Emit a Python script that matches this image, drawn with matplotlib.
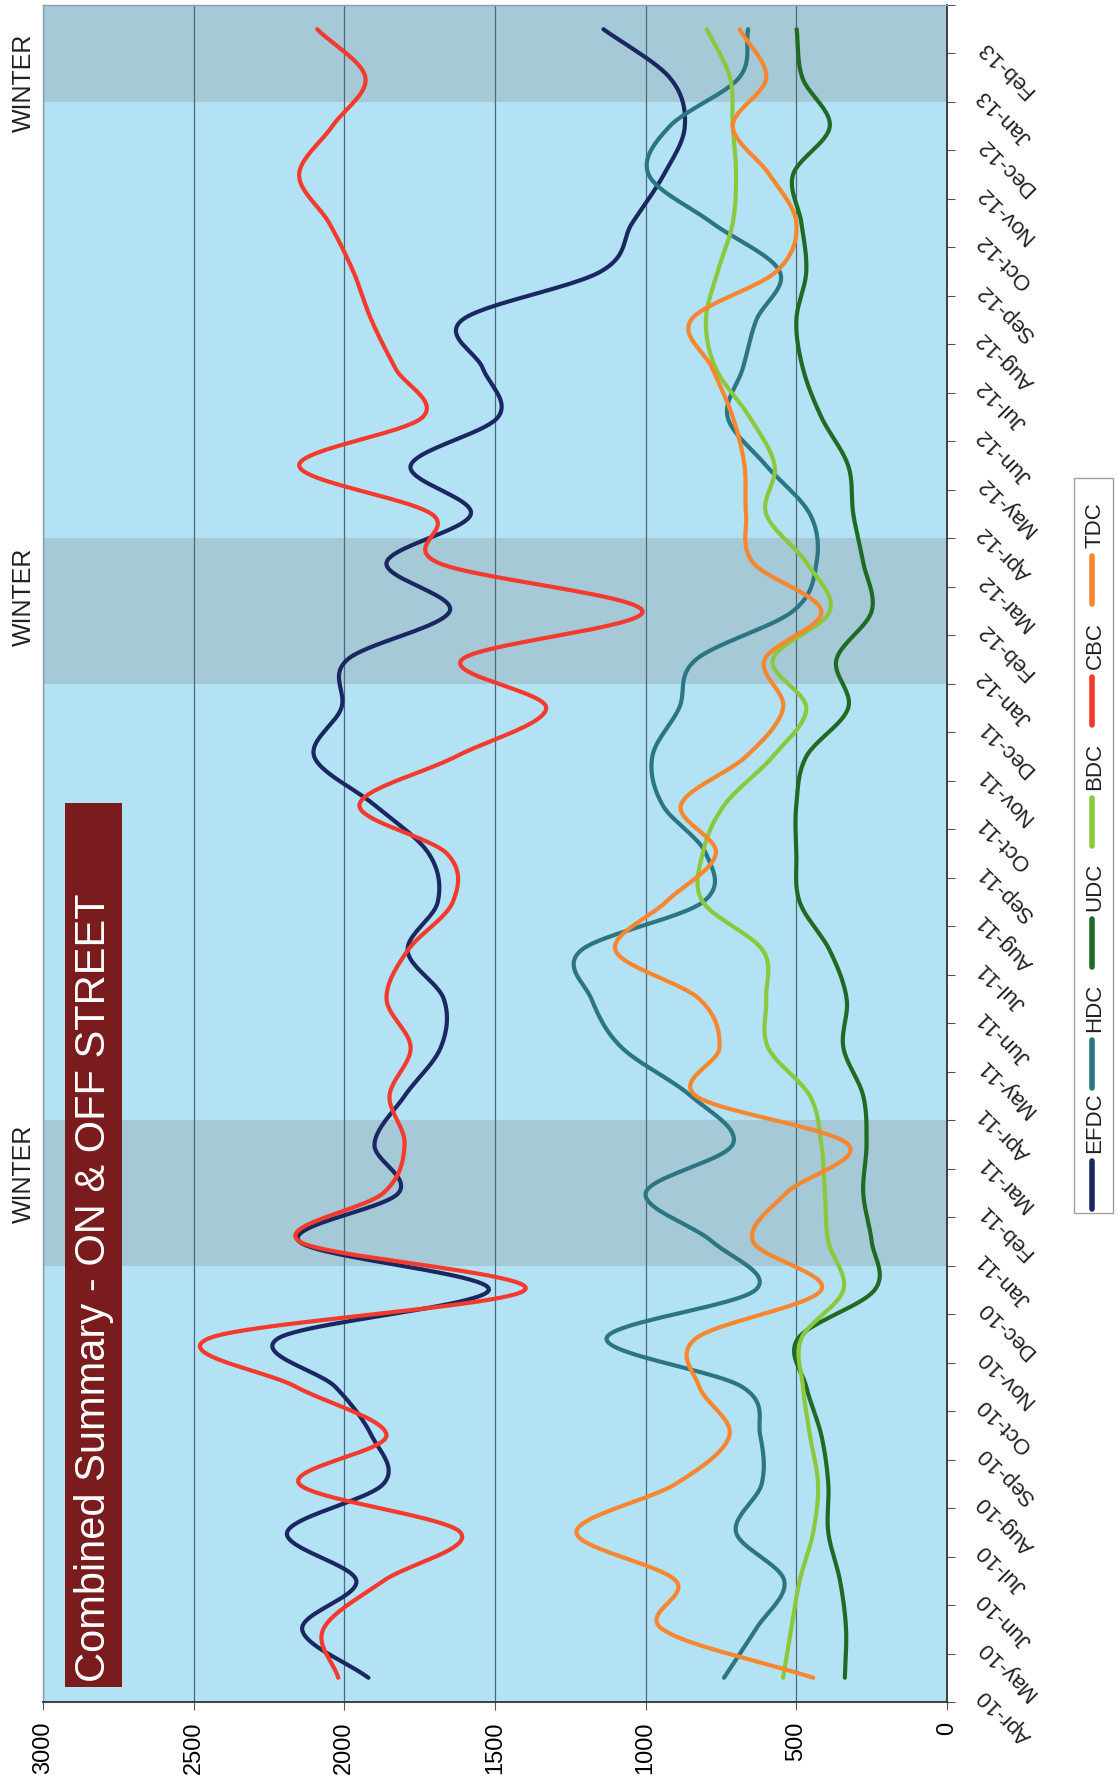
import numpy as np
import matplotlib.pyplot as plt
from matplotlib.patches import Rectangle
from matplotlib.transforms import blended_transform_factory

# 月份（2010年4月 - 2013年2月）
months = ['Apr-10', 'May-10', 'Jun-10', 'Jul-10', 'Aug-10', 'Sep-10', 'Oct-10',
          'Nov-10', 'Dec-10', 'Jan-11', 'Feb-11', 'Mar-11', 'Apr-11', 'May-11',
          'Jun-11', 'Jul-11', 'Aug-11', 'Sep-11', 'Oct-11', 'Nov-11', 'Dec-11',
          'Jan-12', 'Feb-12', 'Mar-12', 'Apr-12', 'May-12', 'Jun-12', 'Jul-12',
          'Aug-12', 'Sep-12', 'Oct-12', 'Nov-12', 'Dec-12', 'Jan-13', 'Feb-13']

efdc = [1920, 2140, 1960, 2190, 1870, 1910, 2030, 2220, 1520, 2150, 1820, 1900,
        1800, 1680, 1670, 1790, 1690, 1720, 1900, 2100, 2010, 1990, 1650, 1860,
        1580, 1780, 1490, 1540, 1610, 1150, 1045, 940, 870, 920, 1140]
hdc = [740, 635, 540, 700, 615, 620, 680, 1130, 635, 780, 1000, 711,
       850, 1080, 1180, 1215, 810, 800, 944, 978, 889, 833, 511, 433,
       455, 600, 728, 678, 633, 555, 778, 990, 920, 690, 660]
udc = [339, 335, 355, 394, 394, 417, 467, 494, 240, 250, 278, 267,
       278, 344, 333, 389, 489, 500, 500, 467, 328, 367, 250, 278,
       311, 328, 417, 478, 500, 467, 483, 511, 389, 480, 499]
bdc = [544, 517, 489, 444, 428, 455, 478, 483, 344, 394, 405, 417,
       455, 594, 600, 611, 810, 811, 739, 578, 467, 578, 389, 467,
       600, 572, 655, 767, 800, 761, 711, 700, 711, 720, 797]
cbc = [2020, 2070, 1870, 1615, 2150, 1860, 2160, 2450, 1400, 2150, 1870, 1800,
       1850, 1780, 1860, 1790, 1640, 1660, 1950, 1630, 1330, 1610, 1010, 1690,
       1710, 2150, 1740, 1830, 1910, 1970, 2050, 2150, 2040, 1930, 2090]
tdc = [444, 944, 900, 1230, 900, 722, 822, 833, 417, 644, 533, 328,
       833, 755, 822, 1100, 933, 767, 883, 667, 544, 605, 417, 644,
       667, 672, 711, 778, 850, 567, 500, 589, 711, 600, 688]

series_names = ['EFDC', 'HDC', 'UDC', 'BDC', 'CBC', 'TDC']
series_data = [efdc, hdc, udc, bdc, cbc, tdc]
colors = ['#1b2760', '#2b7682', '#1f6b24', '#8cc83c', '#f43a2c', '#f7862e']

# 冬季阴影区间（月份刻度位置）
winter_spans = [(9, 12), (21, 24), (33, 36)]
winter_label_pos = [10.9, 22.8, 33.4]

W, H = 1118, 1785


def fx(px):
    return px / W


def fy(py):
    return 1 - py / H


def smooth(vals, n=24):
    # 平滑曲线（三次 Hermite，Catmull-Rom 切线）
    v = np.asarray(vals, float)
    m = np.gradient(v)
    t = np.linspace(0, 1, n, endpoint=False)
    h00 = 2 * t**3 - 3 * t**2 + 1
    h10 = t**3 - 2 * t**2 + t
    h01 = -2 * t**3 + 3 * t**2
    h11 = t**3 - t**2
    pos, val = [], []
    for i in range(len(v) - 1):
        pos.append(i + 0.5 + t)
        val.append(h00 * v[i] + h10 * m[i] + h01 * v[i + 1] + h11 * m[i + 1])
    pos.append([len(v) - 0.5])
    val.append([v[-1]])
    return np.concatenate(val), np.concatenate(pos)


plt.rcParams['font.family'] = ['Liberation Sans', 'DejaVu Sans']

fig = plt.figure(figsize=(W / 100, H / 100), dpi=100)
fig.patch.set_facecolor('white')
ax = fig.add_axes([fx(43), fy(1702), (947 - 43) / W, (1702 - 5) / H])
ax.set_facecolor('#b2e2f4')

for lo, hi in winter_spans:
    ax.axhspan(lo, hi, color='#a5c9d7', zorder=0.5, lw=0)

ax.set_xlim(3000, 0)
ax.set_ylim(0, 35)
ax.set_xticks(np.arange(0, 3001, 500))
ax.set_xticklabels([str(v) for v in range(0, 3001, 500)], rotation=90, fontsize=17)
ax.grid(axis='x', color='#4f6a76', lw=0.9, zorder=1)
ax.tick_params(axis='x', direction='out', length=6, pad=8, color='#555555')

ax.yaxis.tick_right()
ax.set_yticks(np.arange(0, 36))
ax.set_yticklabels([])
ax.tick_params(axis='y', direction='out', length=6, color='#555555')

for s in ['left', 'top']:
    ax.spines[s].set_color('#8d9ea6')
    ax.spines[s].set_linewidth(1.0)
for s in ['bottom', 'right']:
    ax.spines[s].set_color('#333333')
    ax.spines[s].set_linewidth(1.3)

for vals, c in zip(series_data, colors):
    xs, ys = smooth(vals)
    ax.plot(xs, ys, color=c, lw=3.0, solid_capstyle='round', zorder=3)

# 月份标签（斜置）
trans = blended_transform_factory(ax.transAxes, ax.transData)
for i, m in enumerate(months):
    ax.text(1.0376, i + 0.2, m, transform=trans, rotation=135,
            rotation_mode='anchor', ha='right', va='center', fontsize=16,
            color='#222222', clip_on=False)

# 冬季标注
wtrans = blended_transform_factory(fig.transFigure, ax.transData)
for p in winter_label_pos:
    fig.text(fx(24), p, 'WINTER', transform=wtrans, rotation=90,
             ha='center', va='center', fontsize=18, color='#222222')

# 标题框
fig.patches.append(Rectangle((fx(65), fy(1687)), fx(122) - fx(65), fy(803) - fy(1687),
                             transform=fig.transFigure, facecolor='#7a1c1e',
                             edgecolor='none', zorder=5))
fig.text(fx(94), fy(1288), 'Combined Summary - ON & OFF STREET', rotation=90,
         ha='center', va='center', fontsize=30, color='white', zorder=6)

# 图例
fig.patches.append(Rectangle((fx(1074), fy(1213)), fx(1113) - fx(1074), fy(478) - fy(1213),
                             transform=fig.transFigure, facecolor='white',
                             edgecolor='#a0a0a0', lw=1.0, zorder=5))
for j, (name, c) in enumerate(zip(series_names, colors)):
    y_bot = 1209 - 121 * j
    y_top = y_bot - 48
    fig.add_artist(plt.Line2D([fx(1092), fx(1092)], [fy(y_bot), fy(y_top)],
                              transform=fig.transFigure, color=c, lw=4,
                              solid_capstyle='round', zorder=6))
    fig.text(fx(1095), fy(y_top - 8), name, rotation=90, rotation_mode='anchor',
             ha='left', va='center', fontsize=16, color='#222222', zorder=6)

fig.savefig('out.png', dpi=100)
